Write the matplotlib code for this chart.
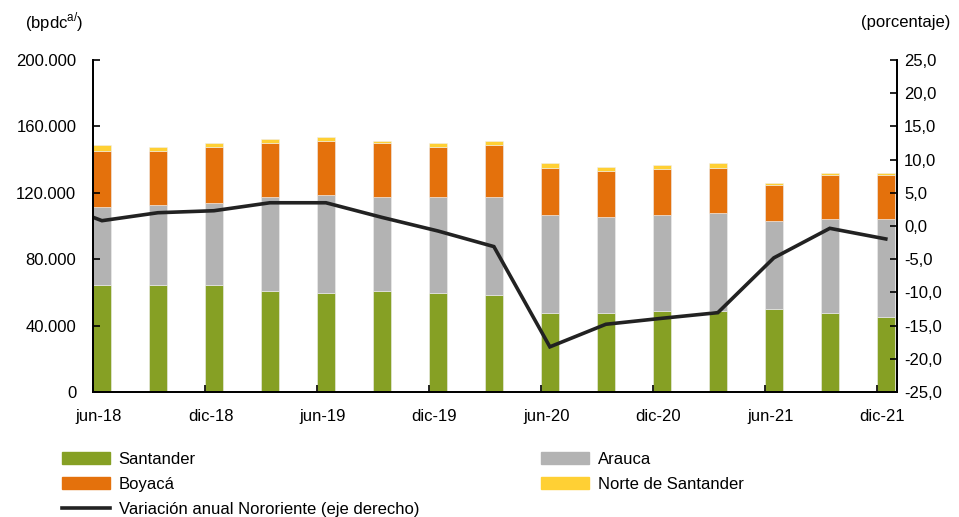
import numpy as np
import matplotlib
matplotlib.use("Agg")
from matplotlib import pyplot as plt
from matplotlib.patches import Patch
from matplotlib.lines import Line2D
from matplotlib.ticker import FuncFormatter, FixedLocator

plt.rcParams['font.family'] = ['Liberation Sans', 'DejaVu Sans']
plt.rcParams['font.size'] = 12

# quarters jun-18 .. dic-21
quarters = ["jun-18", "sep-18", "dic-18", "mar-19", "jun-19", "sep-19", "dic-19", "mar-20",
            "jun-20", "sep-20", "dic-20", "mar-21", "jun-21", "sep-21", "dic-21"]
tick_labels = ["jun-18", "dic-18", "jun-19", "dic-19", "jun-20", "dic-20", "jun-21", "dic-21"]

# production by department (bpdc)
santander = [64400, 64400, 64400, 60800, 59700, 60800, 59700, 58400,
             47600, 47600, 48800, 48800, 50000, 47600, 45200]
arauca = [47000, 48200, 49400, 56700, 59000, 56700, 57800, 59000,
          59000, 57800, 57800, 59000, 53000, 56600, 59000]
boyaca = [33600, 32400, 33600, 32300, 32300, 32300, 29900, 31200,
          28500, 27500, 27500, 27300, 21500, 26300, 26300]
norte = [3800, 2600, 2600, 2600, 2600, 1400, 2600, 2600,
         2800, 2600, 2600, 2800, 1600, 1400, 1400]

# annual variation Nororiente (%), first value is mar-18 (outside the axis)
variacion_prev = 4.0
variacion = [0.8, 2.0, 2.3, 3.5, 3.5, 1.3, -0.75, -3.1,
             -18.2, -14.8, -13.9, -13.05, -4.8, -0.35, -1.95]

c_santander = "#86A024"
c_arauca = "#B3B3B3"
c_boyaca = "#E4710C"
c_norte = "#FFD034"
c_line = "#222222"

fig = plt.figure(figsize=(9.59, 5.17), dpi=100)
ax = fig.add_axes([93 / 959, 1 - 392 / 517, (897 - 93) / 959, (392 - 60) / 517])
ax2 = ax.twinx()

x = np.arange(len(quarters))
w = 0.32
s = np.array(santander)
a = np.array(arauca)
b = np.array(boyaca)
n = np.array(norte)
ax.bar(x, s, w, align='edge', color=c_santander, edgecolor='#eeeeee', linewidth=0.4)
ax.bar(x, a, w, bottom=s, align='edge', color=c_arauca, edgecolor='#eeeeee', linewidth=0.4)
ax.bar(x, b, w, bottom=s + a, align='edge', color=c_boyaca, edgecolor='#eeeeee', linewidth=0.4)
ax.bar(x, n, w, bottom=s + a + b, align='edge', color=c_norte, edgecolor='#eeeeee', linewidth=0.4)

xl = np.concatenate([[-1], x]) + w / 2
ax2.plot(xl, [variacion_prev] + variacion, color=c_line, lw=2.6, solid_joinstyle='miter')

ax.set_xlim(0, 14 + 0.36)
ax.set_ylim(0, 200000)
ax2.set_ylim(-25, 25)

ax.yaxis.set_major_locator(FixedLocator(np.arange(0, 200001, 40000)))
ax.yaxis.set_major_formatter(FuncFormatter(lambda v, p: f"{int(v):,}".replace(",", ".")))
ax2.yaxis.set_major_locator(FixedLocator(np.arange(-25, 25.1, 5)))
ax2.yaxis.set_major_formatter(FuncFormatter(lambda v, p: f"{v:.1f}".replace(".", ",")))

ax.set_xticks(np.arange(0, 15, 2))
ax.set_xticklabels([])
ax.set_xticks(np.arange(0, 15, 2) + 0.1, minor=True)
ax.set_xticklabels(tick_labels, minor=True)
ax.tick_params(axis='x', which='major', direction='in', length=5, width=1.2)
ax.tick_params(axis='x', which='minor', length=0, pad=12)
ax.tick_params(axis='y', direction='in', length=5, width=1.2, pad=12)
ax2.tick_params(axis='y', direction='in', length=5, width=1.2, pad=5)

for axis in (ax, ax2):
    axis.spines['top'].set_visible(False)
    for sp in ('left', 'right', 'bottom'):
        axis.spines[sp].set_linewidth(1.3)

fig.text(25 / 959, 1 - 22 / 517, r"(bpdc$^{\mathregular{a/}}$)", ha='left', va='center')
fig.text(950 / 959, 1 - 22 / 517, "(porcentaje)", ha='right', va='center')

handles = [Patch(color=c_santander), Patch(color=c_boyaca),
           Line2D([], [], color=c_line, lw=2.6),
           Patch(color=c_arauca), Patch(color=c_norte)]
labels = ["Santander", "Boyacá", "Variación anual Nororiente (eje derecho)",
          "Arauca", "Norte de Santander"]
fig.legend(handles, labels, ncol=2, loc='upper left', bbox_to_anchor=(62 / 959, 1 - 452 / 517),
           frameon=False, handlelength=2.9, handleheight=0.7, handletextpad=0.5,
           labelspacing=0.6, columnspacing=7.3, borderpad=0, borderaxespad=0)

fig.savefig("out.png", dpi=100)
